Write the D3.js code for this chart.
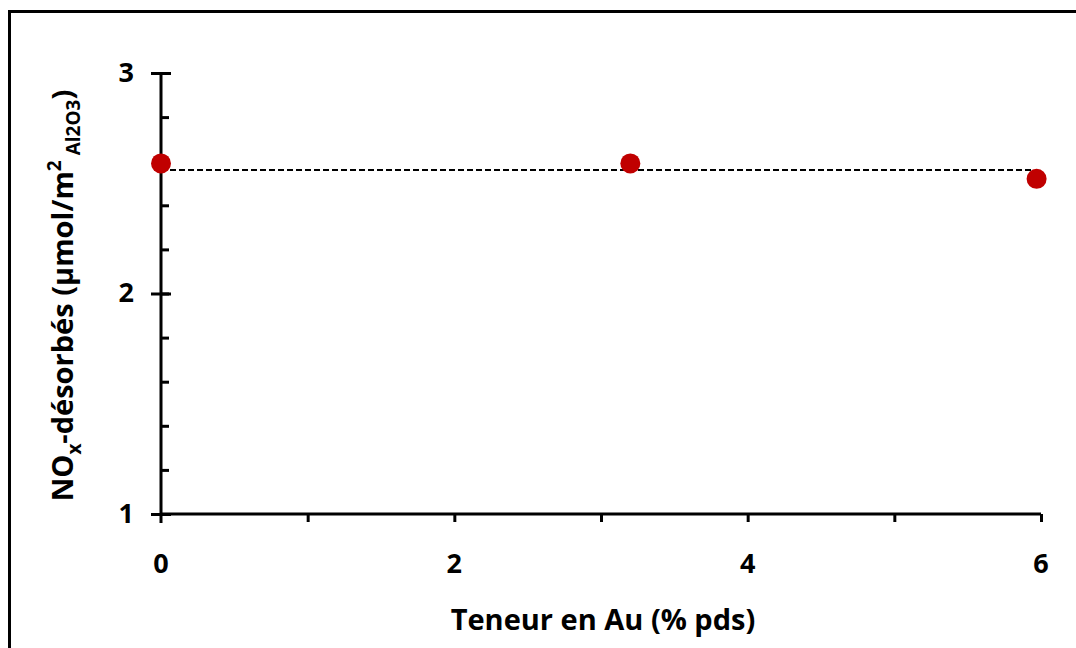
<!DOCTYPE html>
<html>
<head>
<meta charset="utf-8">
<script src="https://cdn.jsdelivr.net/npm/d3@7"></script>
<style>
  body { margin: 0; background: #fff; }
  text { font-family: "Open Sans", Lato, sans-serif; font-weight: bold; fill: #000; }
</style>
</head>
<body>
<div id="chart"></div>
<script>
// data
var auContent = [0, 3.2, 5.97];
var noxDesorbed = [2.59, 2.59, 2.52];
var meanLine = [[0, 2.56], [5.95, 2.56]];
var xTicks = [0, 2, 4, 6];
var yTicks = [1, 2, 3];

var W = 1076, H = 648;
var margin = {top: 73, right: 35, bottom: 134, left: 161},
    width = W - margin.left - margin.right,
    height = H - margin.top - margin.bottom;

var root = d3.select("#chart")
  .append("svg")
    .attr("width", W)
    .attr("height", H);

// outer frame (runs off the right and bottom edges)
root.append("rect")
  .attr("x", 9.5).attr("y", 11.5)
  .attr("width", W + 20).attr("height", H + 20)
  .attr("fill", "none")
  .attr("stroke", "#000")
  .attr("stroke-width", 3);

var svg = root.append("g")
  .attr("transform", "translate(" + margin.left + "," + margin.top + ")");

var x = d3.scaleLinear().domain([0, 6]).range([0, width]);
var y = d3.scaleLinear().domain([1, 3]).range([height, 0]);

// y minor ticks (inside, right side)
svg.append("g")
  .call(d3.axisRight(y).tickValues(d3.range(1, 3.001, 0.2)).tickSize(8).tickFormat(""))
  .call(function(g) { g.select(".domain").remove(); })
  .selectAll("line").attr("stroke", "#000").attr("stroke-width", 3);

// y axis, major ticks crossing
var yAxis = svg.append("g")
  .call(d3.axisLeft(y).tickValues(yTicks).tickFormat(d3.format("d"))
    .tickSize(10).tickPadding(17).tickSizeOuter(0));
yAxis.select(".domain").remove();
yAxis.selectAll(".tick line").attr("x2", 10).attr("x1", -10).attr("stroke", "#000").attr("stroke-width", 3);
yAxis.selectAll("text").style("font-size", "27px").attr("dy", "0.3em");
svg.append("line")
  .attr("x1", 0).attr("x2", 0)
  .attr("y1", y(3)).attr("y2", y(1) + 9)
  .attr("stroke", "#000").attr("stroke-width", 3);

// x axis
var xAxis = svg.append("g")
  .attr("transform", "translate(0," + height + ")")
  .call(d3.axisBottom(x).tickValues(d3.range(1, 7)).tickSize(8).tickFormat("").tickSizeOuter(0));
xAxis.select(".domain").attr("stroke", "#000").attr("stroke-width", 3)
  .attr("d", "M0,0H" + x(6));
xAxis.selectAll("line").attr("stroke", "#000").attr("stroke-width", 3);

svg.append("g")
  .attr("transform", "translate(0," + height + ")")
  .selectAll("text")
  .data(xTicks)
  .enter()
  .append("text")
    .attr("x", function(d) { return x(d); })
    .attr("y", 59)
    .attr("text-anchor", "middle")
    .style("font-size", "27px")
    .text(function(d) { return d; });

// dashed reference line
svg.append("path")
  .datum(meanLine)
  .attr("fill", "none")
  .attr("stroke", "#000")
  .attr("stroke-width", 2)
  .attr("stroke-dasharray", "6,3")
  .attr("d", d3.line()
    .x(function(d) { return x(d[0]); })
    .y(function(d) { return y(d[1]); }));

// points
svg.selectAll("circle")
  .data(auContent)
  .enter()
  .append("circle")
    .attr("cx", function(d) { return x(d); })
    .attr("cy", function(d, i) { return y(noxDesorbed[i]); })
    .attr("r", 10)
    .attr("fill", "#C00000");

// axis titles
svg.append("text")
  .attr("x", x(3) + 2)
  .attr("y", height + 116)
  .attr("text-anchor", "middle")
  .style("font-size", "29px")
  .text("Teneur en Au (% pds)");

var yt = svg.append("text")
  .attr("transform", "translate(-88," + (height / 2 + 2) + ") rotate(-90)")
  .attr("text-anchor", "middle")
  .style("font-size", "29px");
yt.append("tspan").text("NO");
yt.append("tspan").attr("dy", 8).style("font-size", "19px").text("x");
yt.append("tspan").attr("dy", -8).text("-désorbés (µmol/m");
yt.append("tspan").attr("dy", -12).style("font-size", "19px").text("2");
yt.append("tspan").attr("dy", 19).style("font-size", "19px").text(" Al2O3");
yt.append("tspan").attr("dy", -7).text(")");
</script>
</body>
</html>
